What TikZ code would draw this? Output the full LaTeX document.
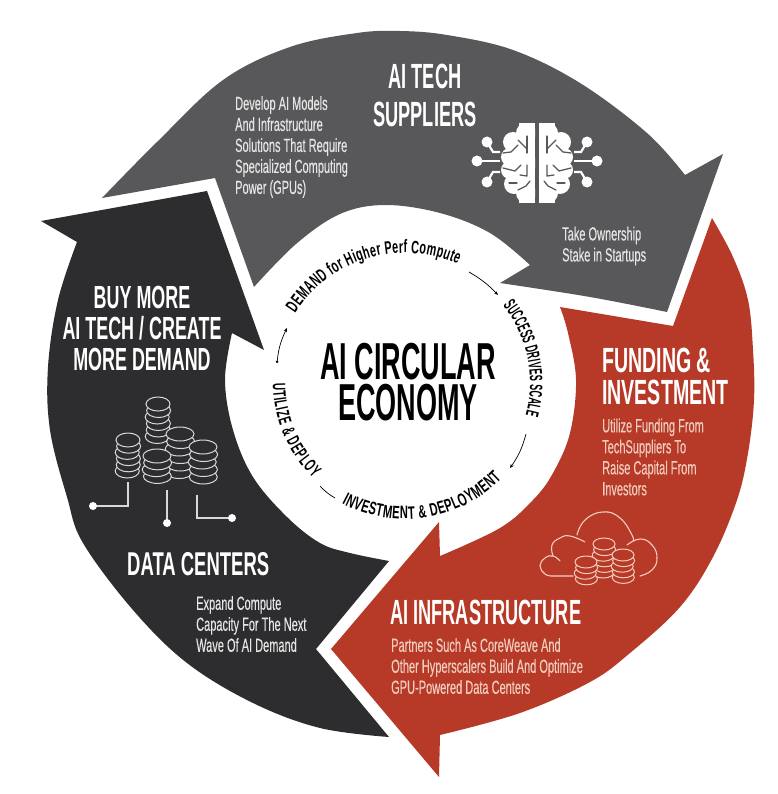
\documentclass[tikz,border=0pt]{standalone}
\usepackage{fontspec}
\usetikzlibrary{decorations.text,arrows.meta,calc}
\newfontfamily\headfont[FakeStretch=0.52]{Liberation Sans}
\newfontfamily\headwide[FakeStretch=0.56]{Liberation Sans}
\newfontfamily\bodyfont[FakeStretch=0.58,FakeBold=0.25]{Liberation Sans}
\newfontfamily\ringfonta[FakeStretch=0.6]{Liberation Sans}
\newfontfamily\ringfontb[FakeStretch=0.5]{Liberation Sans}
\newfontfamily\ringfontc[FakeStretch=0.62]{Liberation Sans}
\newfontfamily\ringfontd[FakeStretch=0.56]{Liberation Sans}
\definecolor{cgray}{HTML}{58585A}
\definecolor{cblack}{HTML}{2D2C2E}
\definecolor{cred}{HTML}{B63A27}
\definecolor{credline}{HTML}{F2CDBF}
\definecolor{ccoin}{HTML}{D8D8D8}
\tikzset{
  headtext/.style={font=\headfont\bfseries\fontsize{35}{38}\selectfont,text=white,inner sep=0pt,align=center},
  bodytext/.style={font=\bodyfont\fontsize{19}{21}\selectfont,inner sep=0pt,align=left,anchor=west},
  titletext/.style={font=\headfont\bfseries\fontsize{52}{41}\selectfont,text=black,inner sep=0pt,align=center},
  ringarc/.style={draw=black,line width=0.7pt},
  ringtext/.style={decorate,decoration={text along path,text align={fit to path},raise=0pt}},
  wire/.style={draw=ccoin,line width=1.2pt},
  wiredot/.style={fill=white,draw=none},
  brainwire/.style={draw=white,line width=2.2pt},
  sulcus/.style={draw=cgray,line width=1.3pt,line cap=round,line join=round},
}
% \coinstack{x}{ytop}{rx}{ry}{n}{pitch}{fill}{line}
\newcommand{\coinstack}[8]{%
  \foreach \k in {#5,...,0}{%
    \pgfmathsetmacro{\yy}{#2+\k*#6}
    \pgfmathsetmacro{\xx}{#1+0.8*sin(\k*130)}
    \path[fill=#7,draw=#8,line width=1pt] (\xx,\yy) ellipse [x radius=#3pt,y radius=#4pt];
  }%
}
\begin{document}
\begin{tikzpicture}[x=1pt,y=-1pt]
\useasboundingbox (0,0) rectangle (777,794);
\fill[white] (0,0) rectangle (777,794);

% gray arrow
\fill[cgray] plot[smooth,tension=0.6] coordinates {(102,198) (157,142) (223,80) (290,47) (357,33) (400,31) (447,35) (513,50) (580,83) (647,133) (685,175)}
  -- (723,154) -- (667,312)
  -- plot[smooth,tension=0.6] coordinates {(667,312) (590,297) (500,283)}
  -- (530,265)
  -- plot[smooth,tension=0.6] coordinates {(530,265) (490,233) (440,213) (385,205) (340,214) (296,244) (254,287)}
  -- (215,178) -- cycle;

% red arrow
\fill[cred] plot[smooth,tension=0.6] coordinates {(712,218) (733,257) (748,300) (753,350) (754,400) (748,453) (737,500) (713,557) (680,607) (630,653) (590,682) (520,713) (440,735)}
  -- (439,777) -- (331,649) -- (439,522)
  -- plot[smooth,tension=0.6] coordinates {(440,556) (500,528) (533,500) (553,473) (570,433) (576,380) (568,333) (560,307)}
  -- (673,326) -- cycle;

% black arrow
\fill[cblack] plot[smooth,tension=0.6] coordinates {(77,242) (58,300) (48,367) (50,430) (67,497) (83,543) (133,610) (187,663) (253,703) (320,728) (389,737)}
  -- (316,649) -- (389,561)
  -- plot[smooth,tension=0.6] coordinates {(389,561) (350,553) (320,543) (287,517) (253,477) (233,430) (225,380) (232,333)}
  -- (264,350) -- (207,191) -- (41,221) -- cycle;

% titles
\node[titletext] (title) at (408,382) {AI CIRCULAR\\ECONOMY};

% ring texts
\path[ringtext,decoration={text={|\ringfonta\bfseries\fontsize{18}{18}\selectfont|DEMAND for Higher Perf Compute}}]
  (405,383) ++(147.6:130pt) arc (147.6:66:130pt);
\path[ringtext,decoration={text={|\ringfontb\bfseries\fontsize{18}{18}\selectfont|SUCCESS DRIVES SCALE}}]
  (405,383) ++(38.5:125pt) arc (38.5:-15:125pt);
\path[ringtext,decoration={text={|\ringfontc\bfseries\fontsize{18}{18}\selectfont|INVESTMENT {\&} DEPLOYMENT}}]
  (405,383) ++(-117.7:136pt) arc (-117.7:-44.7:136pt);
\path[ringtext,decoration={text={|\ringfontd\bfseries\fontsize{18}{18}\selectfont|UTILIZE {\&} DEPLOY}}]
  (405,383) ++(180:132pt) arc (180:226:132pt);

% ring arrows
\coordinate (r1a) at (469,272); \coordinate (r1b) at (498,295);
\coordinate (r2a) at (526,434); \coordinate (r2b) at (510,468);
\coordinate (r3a) at (335,498); \coordinate (r3b) at (320,486);
\coordinate (r4a) at (277,363); \coordinate (r4b) at (287,328);
\draw[ringarc,-{Stealth[length=4pt,width=3pt]}] (r1a) to[bend left=8] (r1b);
\draw[ringarc,-{Stealth[length=4pt,width=3.5pt]}] (r2a) to[bend left=10] (r2b);
\draw[ringarc] (r3a) to[bend left=8] (r3b);
\draw[ringarc,{Circle[length=2.5pt]}-{Stealth[length=4pt,width=3.5pt]}] (r4a) to[bend left=10] (r4b);

% gray texts
\node[headtext] (suppliers) at (425,95) {AI TECH\\SUPPLIERS};
\node[bodytext,text=white!90!black] (develop) at (235,147) {Develop AI Models\\And Infrastructure\\Solutions That Require\\Specialized Computing\\Power (GPUs)};
\node[bodytext,text=white!90!black] (stake) at (562,246) {Take Ownership\\Stake in Startups};

% red texts
\node[headtext,font=\headwide\bfseries\fontsize{35}{32}\selectfont,align=left,anchor=west] (funding) at (602,376) {FUNDING \&\\INVESTMENT};
\node[bodytext,text=credline] (utilize) at (602,457) {Utilize Funding From\\TechSuppliers To\\Raise Capital From\\Investors};
\node[headtext,anchor=west] (infra) at (390,612) {AI INFRASTRUCTURE};
\node[bodytext,text=credline] (partners) at (391,666) {Partners Such As CoreWeave And\\Other Hyperscalers Build And Optimize\\GPU-Powered Data Centers};

% black texts
\node[headtext,font=\headwide\bfseries\fontsize{32}{31}\selectfont] (buy) at (142,328) {BUY MORE\\AI TECH / CREATE\\MORE DEMAND};
\node[headtext,font=\headwide\bfseries\fontsize{33}{33}\selectfont,anchor=west] (dc) at (127,564) {DATA CENTERS};
\node[bodytext,text=white!90!black] (expand) at (196,624) {Expand Compute\\Capacity For The Next\\Wave Of AI Demand};

% brain
\foreach \sx in {1,-1}{
\begin{scope}[shift={(537,163)},xscale=\sx]
  \begin{scope}
    \clip (-40,-45) rectangle (-2,45);
    \fill[white] (-2,-40) rectangle (-18,40);
    \foreach \cx/\cy/\rr in {-11/-30/10,-24/-21/10,-27/-6/9,-27/7/9,-23/21/10,-11/30/10,-15/0/14}{
      \fill[white] (\cx,\cy) circle [radius=\rr pt];
    }
  \end{scope}
  \draw[sulcus] (-10,-27) -- (-10,-10);
  \draw[sulcus] (-19,-23) -- (-14,-18) -- (-10,-14);
  \draw[sulcus] (-34,-10) -- (-26,-11) -- (-19,-18);
  \draw[sulcus] (-10,2) -- (-10,13) -- (-17,12);
  \draw[sulcus] (-34,5) -- (-22,8) -- (-16,2);
  \draw[sulcus] (-19,27) -- (-11,23) -- (-7,18);
  \draw[sulcus] (-28,20) -- (-20,20);
  \fill[white] (-60,-2) circle [radius=5.5pt];
  \draw[brainwire] (-60,-2) -- (-37,-2);
  \fill[white] (-50,-21) circle [radius=5.5pt];
  \draw[brainwire] (-50,-21) -- (-44,-11) -- (-37,-11);
  \fill[white] (-50,19) circle [radius=5.5pt];
  \draw[brainwire] (-50,19) -- (-44,9) -- (-37,9);
\end{scope}
}

% data centre coins
\coinstack{158}{404}{12}{7}{5}{6.5}{cblack}{ccoin}
\coinstack{128}{440}{12}{7}{5}{6.2}{cblack}{ccoin}
\coinstack{180}{434}{14}{7}{5}{7.5}{cblack}{ccoin}
\coinstack{203}{447}{14}{7}{4}{7.5}{cblack}{ccoin}
\coinstack{157}{456}{14}{7}{3}{6.8}{cblack}{ccoin}
\coordinate (w1a) at (128,482); \coordinate (w1b) at (128,506); \coordinate (w1c) at (93,506);
\coordinate (w2a) at (167,490); \coordinate (w2b) at (167,523);
\coordinate (w3a) at (197,495); \coordinate (w3b) at (197,518); \coordinate (w3c) at (232,518);
\draw[wire] (w1a) -- (w1b) -- (w1c);
\draw[wire] (w2a) -- (w2b);
\draw[wire] (w3a) -- (w3b) -- (w3c);
\fill[wiredot] (w1c) circle [radius=4pt];
\fill[wiredot] (w2b) circle [radius=4pt];
\fill[wiredot] (w3c) circle [radius=4pt];

% cloud
\draw[credline,line width=1.1pt,line join=round,line cap=round]
  plot[smooth,tension=0.8] coordinates {(560,561) (553,556) (545,558) (540,566) (545,574) (552,576)} -- (573,576);
\draw[credline,line width=1.1pt,line cap=round]
  plot[smooth,tension=0.8] coordinates {(553,556) (552,545) (560,538) (570,536) (585,542)};
\draw[credline,line width=1.1pt,line cap=round]
  plot[smooth,tension=0.8] coordinates {(577,535) (585,520) (603,512) (620,518) (632,535) (633,541)};
\draw[credline,line width=1.1pt,line cap=round]
  plot[smooth,tension=0.8] coordinates {(627,545) (640,539) (652,545) (657,558) (652,570) (640,576)};
\coinstack{604}{544}{11}{6}{5}{5.6}{cred}{credline}
\coinstack{623}{555}{11}{6}{4}{5.6}{cred}{credline}
\coinstack{586}{562}{11}{6}{3}{5.6}{cred}{credline}
\end{tikzpicture}
\end{document}
